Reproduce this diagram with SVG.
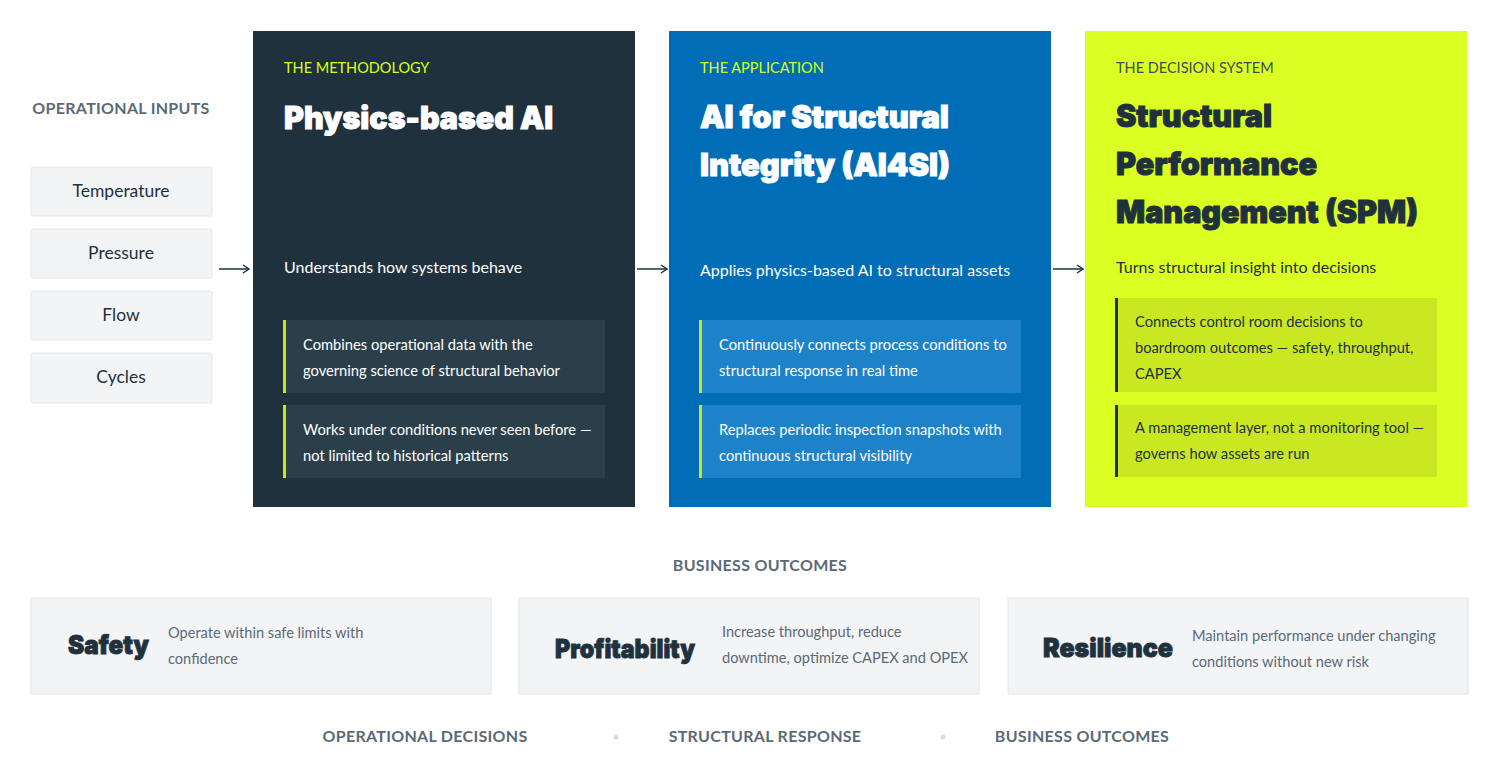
<svg xmlns="http://www.w3.org/2000/svg" width="1500" height="757" viewBox="0 0 1500 757">
<defs>
<style>
.body{font-family:"Lato","Liberation Sans",sans-serif}
.hd{font-family:"Lato","Liberation Sans",sans-serif;font-weight:bold;fill:#5b6a76;font-size:16px;letter-spacing:0.3px}
.ttl{font-family:"Inter","Liberation Sans",sans-serif;font-weight:900;font-size:31px;stroke-width:1;paint-order:stroke}
.otl{font-family:"Inter","Liberation Sans",sans-serif;font-weight:900;font-size:26px;fill:#1f313c;stroke:#1f313c;stroke-width:0.9}
.inbox{fill:#f3f4f6;stroke:#e4e6e9;stroke-width:1}
.intx{font-size:17.5px;fill:#1f313c;text-anchor:middle}
.lbl{font-size:14.5px}
.sub{font-size:16px}
.bul{font-size:14.7px}
.desc{font-size:14.6px;fill:#5b6a76}
.obox{fill:#f3f4f6;stroke:#e3e5e8;stroke-width:1}
.conn{stroke:#1f313c;stroke-width:1.5;fill:none}
</style>
<marker id="ah" markerWidth="10" markerHeight="10" refX="8" refY="5" orient="auto" markerUnits="userSpaceOnUse">
<polyline points="2,1 8,5 2,9" fill="none" stroke="#1f313c" stroke-width="1.5"/>
</marker>
</defs>
<rect width="1500" height="757" fill="#ffffff"/>

<text class="hd" x="121" y="114" text-anchor="middle">OPERATIONAL INPUTS</text>

<g id="in-temperature"><rect class="inbox" x="31" y="167" width="181" height="49" rx="2"/><text class="body intx" x="121" y="197">Temperature</text></g>
<g id="in-pressure"><rect class="inbox" x="31" y="229" width="181" height="49" rx="2"/><text class="body intx" x="121" y="259">Pressure</text></g>
<g id="in-flow"><rect class="inbox" x="31" y="291" width="181" height="49" rx="2"/><text class="body intx" x="121" y="321">Flow</text></g>
<g id="in-cycles"><rect class="inbox" x="31" y="353" width="181" height="50" rx="2"/><text class="body intx" x="121" y="383">Cycles</text></g>

<g id="connectors">
<line class="conn" x1="219" y1="269" x2="249" y2="269" marker-end="url(#ah)"/>
<line class="conn" x1="637" y1="269" x2="667" y2="269" marker-end="url(#ah)"/>
<line class="conn" x1="1053" y1="269" x2="1083" y2="269" marker-end="url(#ah)"/>
</g>

<g id="card-methodology">
<rect x="253" y="31" width="382" height="476" fill="#1f313c"/>
<text class="body lbl" x="284" y="73" fill="#dcff1e">THE METHODOLOGY</text>
<text class="ttl" x="284" y="129" fill="#ffffff" stroke="#ffffff" textLength="269" lengthAdjust="spacingAndGlyphs">Physics-based AI</text>
<text class="body sub" x="284" y="273" fill="#ffffff">Understands how systems behave</text>
<rect x="283" y="320" width="322" height="73" fill="#2b3f4b"/>
<rect x="283" y="320" width="3" height="73" fill="#c8e619"/>
<text class="body bul" fill="#ffffff"><tspan x="303" y="350">Combines operational data with the</tspan><tspan x="303" y="376">governing science of structural behavior</tspan></text>
<rect x="283" y="405" width="322" height="73" fill="#2b3f4b"/>
<rect x="283" y="405" width="3" height="73" fill="#c8e619"/>
<text class="body bul" fill="#ffffff"><tspan x="303" y="435">Works under conditions never seen before —</tspan><tspan x="303" y="461">not limited to historical patterns</tspan></text>
</g>

<g id="card-application">
<rect x="669" y="31" width="382" height="476" fill="#016db7"/>
<text class="body lbl" x="700" y="73" fill="#dcff1e">THE APPLICATION</text>
<text class="ttl" x="700" y="128" fill="#ffffff" stroke="#ffffff" textLength="249" lengthAdjust="spacingAndGlyphs">AI for Structural</text>
<text class="ttl" x="700" y="176" fill="#ffffff" stroke="#ffffff" textLength="250" lengthAdjust="spacingAndGlyphs">Integrity (AI4SI)</text>
<text class="body sub" x="700" y="276" fill="#ffffff">Applies physics-based AI to structural assets</text>
<rect x="699" y="320" width="322" height="73" fill="#1e82c8"/>
<rect x="699" y="320" width="3" height="73" fill="#c8e619"/>
<text class="body bul" fill="#ffffff"><tspan x="719" y="350">Continuously connects process conditions to</tspan><tspan x="719" y="376">structural response in real time</tspan></text>
<rect x="699" y="405" width="322" height="73" fill="#1e82c8"/>
<rect x="699" y="405" width="3" height="73" fill="#c8e619"/>
<text class="body bul" fill="#ffffff"><tspan x="719" y="435">Replaces periodic inspection snapshots with</tspan><tspan x="719" y="461">continuous structural visibility</tspan></text>
</g>

<g id="card-decision">
<rect x="1085" y="31" width="382" height="476" fill="#dcff23"/>
<text class="body lbl" x="1116" y="73" fill="#3e4e58">THE DECISION SYSTEM</text>
<text class="ttl" x="1116" y="127" fill="#1f313c" stroke="#1f313c" textLength="156" lengthAdjust="spacingAndGlyphs">Structural</text>
<text class="ttl" x="1116" y="175" fill="#1f313c" stroke="#1f313c" textLength="201" lengthAdjust="spacingAndGlyphs">Performance</text>
<text class="ttl" x="1116" y="223" fill="#1f313c" stroke="#1f313c" textLength="302" lengthAdjust="spacingAndGlyphs">Management (SPM)</text>
<text class="body sub" x="1116" y="273" fill="#1f313c">Turns structural insight into decisions</text>
<rect x="1115" y="298" width="322" height="94" fill="#c9e822"/>
<rect x="1115" y="298" width="3" height="94" fill="#1f313c"/>
<text class="body bul" fill="#1f313c"><tspan x="1135" y="327">Connects control room decisions to</tspan><tspan x="1135" y="353">boardroom outcomes — safety, throughput,</tspan><tspan x="1135" y="379">CAPEX</tspan></text>
<rect x="1115" y="405" width="322" height="72" fill="#c9e822"/>
<rect x="1115" y="405" width="3" height="72" fill="#1f313c"/>
<text class="body bul" fill="#1f313c"><tspan x="1135" y="433">A management layer, not a monitoring tool —</tspan><tspan x="1135" y="459">governs how assets are run</tspan></text>
</g>

<text class="hd" x="760" y="571" text-anchor="middle">BUSINESS OUTCOMES</text>

<g id="out-safety">
<rect class="obox" x="31" y="598" width="460" height="96"/>
<text class="otl" x="68" y="654" textLength="81" lengthAdjust="spacingAndGlyphs">Safety</text>
<text class="body desc"><tspan x="168" y="638">Operate within safe limits with</tspan><tspan x="168" y="664">confidence</tspan></text>
</g>
<g id="out-profitability">
<rect class="obox" x="519" y="598" width="460" height="96"/>
<text class="otl" x="555" y="658" textLength="140" lengthAdjust="spacingAndGlyphs">Profitability</text>
<text class="body desc"><tspan x="722" y="637">Increase throughput, reduce</tspan><tspan x="722" y="663">downtime, optimize CAPEX and OPEX</tspan></text>
</g>
<g id="out-resilience">
<rect class="obox" x="1008" y="598" width="460" height="96"/>
<text class="otl" x="1043" y="657" textLength="130" lengthAdjust="spacingAndGlyphs">Resilience</text>
<text class="body desc"><tspan x="1192" y="641">Maintain performance under changing</tspan><tspan x="1192" y="667">conditions without new risk</tspan></text>
</g>

<text class="hd" x="425" y="742" text-anchor="middle">OPERATIONAL DECISIONS</text>
<circle cx="616" cy="737" r="2.5" fill="#d9dde1"/>
<text class="hd" x="765" y="742" text-anchor="middle">STRUCTURAL RESPONSE</text>
<circle cx="943" cy="737" r="2.5" fill="#d9dde1"/>
<text class="hd" x="1082" y="742" text-anchor="middle">BUSINESS OUTCOMES</text>
</svg>
